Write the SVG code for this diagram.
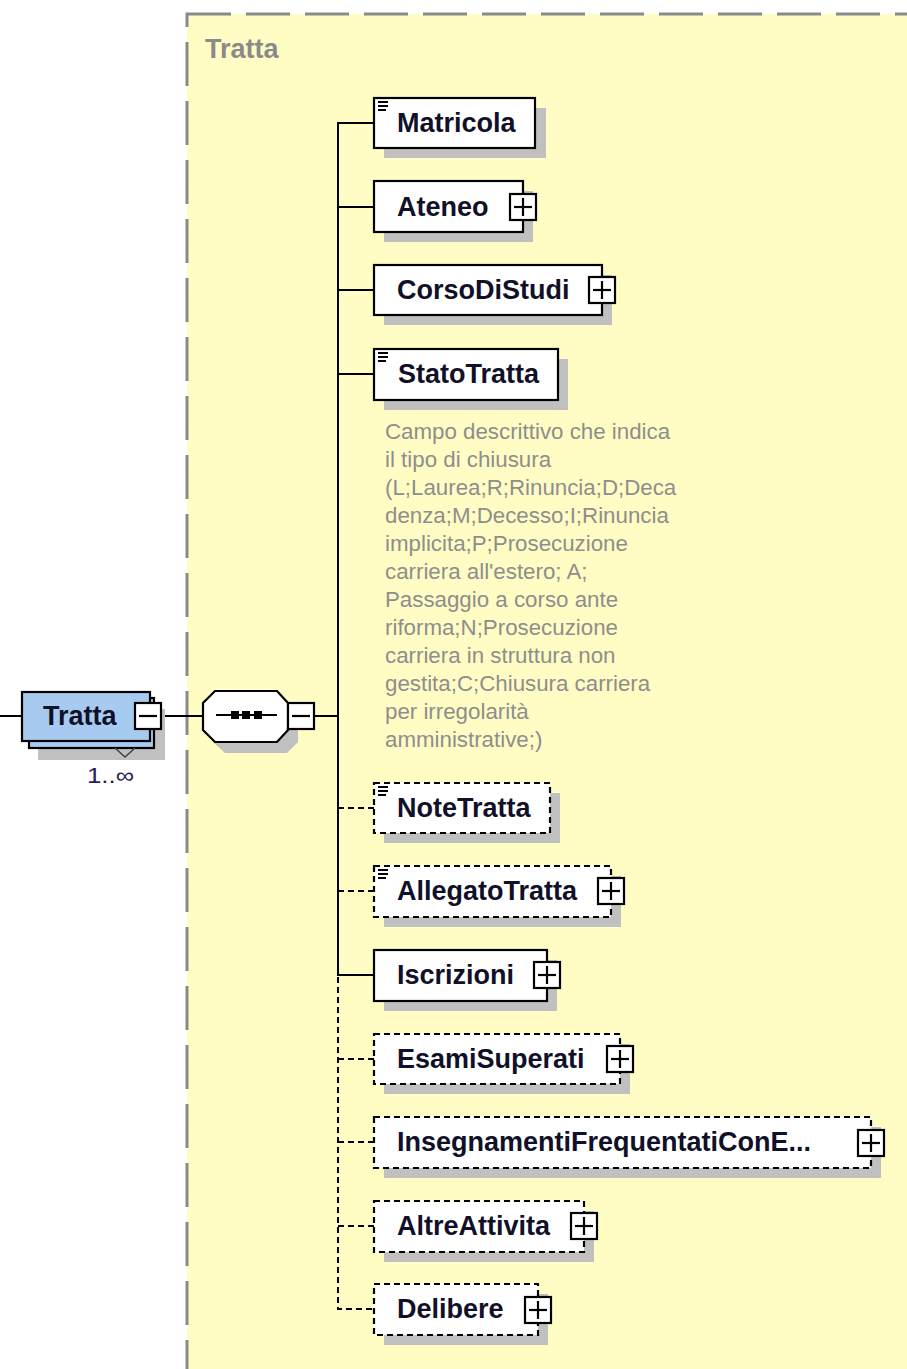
<svg xmlns="http://www.w3.org/2000/svg" width="907" height="1369" viewBox="0 0 907 1369">
  <style>
    .panel { fill: #FFFDC4; stroke: #8A8A8A; stroke-width: 3; stroke-dasharray: 44 15; }
    .panel-title { font-family: "Liberation Sans", Arial, sans-serif; font-weight: bold; font-size: 27px; fill: #8A8A8A; }
    .shadow { fill: #C0C0C0; }
    .box { fill: #FFFFFF; stroke: #000000; stroke-width: 2.2; }
    .box-opt { fill: #FFFFFF; stroke: #000000; stroke-width: 2.2; stroke-dasharray: 6 4; }
    .label { font-family: "Liberation Sans", Arial, sans-serif; font-weight: bold; font-size: 27px; fill: #101028; }
    .desc { font-family: "Liberation Sans", Arial, sans-serif; font-size: 22.3px; fill: #8E8E8E; }
    .occurs { font-family: "Liberation Sans", Arial, sans-serif; font-size: 22px; fill: #2B1B5B; }
    .wire { stroke: #000000; stroke-width: 2; fill: none; }
    .wire-opt { stroke: #000000; stroke-width: 2; fill: none; stroke-dasharray: 6 4; }
    .toggle { fill: #FFFFFF; stroke: #000000; stroke-width: 2.2; }
    .sign { stroke: #000000; stroke-width: 2.2; }
    .doc { stroke: #000000; stroke-width: 2; }
  </style>
  <defs>
    <!-- expand button, centred on its origin -->
    <g id="plus">
      <rect class="toggle" x="-13" y="-13" width="26" height="26"/>
      <line class="sign" x1="-9" y1="0" x2="9" y2="0"/>
      <line class="sign" x1="0" y1="-9" x2="0" y2="9"/>
    </g>
    <!-- collapse button, centred on its origin -->
    <g id="minus">
      <rect class="toggle" x="-13" y="-13" width="26" height="26"/>
      <line class="sign" x1="-9" y1="0" x2="9" y2="0"/>
    </g>
    <!-- simple-content marker in a node's top-left corner -->
    <g id="doc">
      <line class="doc" x1="0" y1="0" x2="10" y2="0"/>
      <line class="doc" x1="0" y1="4" x2="10" y2="4"/>
      <line class="doc" x1="0" y1="8" x2="8" y2="8"/>
    </g>
  </defs>

  <rect width="907" height="1369" fill="#FFFFFF"/>

  <!-- complex type panel -->
  <g id="panel">
    <rect class="panel" x="187" y="14" width="760" height="1400"/>
    <text class="panel-title" x="205" y="58">Tratta</text>
  </g>

  <!-- connectors -->
  <g id="connectors">
    <line class="wire" x1="0" y1="716" x2="22" y2="716"/>
    <line class="wire" x1="161" y1="716" x2="203" y2="716"/>
    <line class="wire" x1="301" y1="716" x2="338" y2="716"/>
    <polyline class="wire" points="374,123 338,123 338,975 374,975"/>
    <line class="wire" x1="338" y1="207" x2="374" y2="207"/>
    <line class="wire" x1="338" y1="290" x2="374" y2="290"/>
    <line class="wire" x1="338" y1="374" x2="374" y2="374"/>
    <line class="wire-opt" x1="338" y1="808" x2="374" y2="808"/>
    <line class="wire-opt" x1="338" y1="891" x2="374" y2="891"/>
    <polyline class="wire-opt" points="338,977 338,1309 374,1309"/>
    <line class="wire-opt" x1="338" y1="1059" x2="374" y2="1059"/>
    <line class="wire-opt" x1="338" y1="1142" x2="374" y2="1142"/>
    <line class="wire-opt" x1="338" y1="1226" x2="374" y2="1226"/>
  </g>

  <!-- root element -->
  <g id="node-root">
    <rect class="shadow" x="38" y="709" width="127" height="51"/>
    <rect x="29" y="698" width="125" height="50" fill="#A6CAF0" stroke="#000" stroke-width="2.2"/>
    <rect x="22" y="692" width="128" height="49" fill="#A6CAF0" stroke="#000" stroke-width="2.2"/>
    <polyline points="115,748 125,757 135,748" fill="none" stroke="#404040" stroke-width="1.5"/>
    <text class="label" x="43" y="725">Tratta</text>
    <use href="#minus" x="148" y="716"/>
    <text class="occurs" x="87" y="783" textLength="47" lengthAdjust="spacingAndGlyphs">1..∞</text>
  </g>

  <!-- sequence compositor -->
  <g id="node-sequence">
    <polygon class="shadow" points="225,701 287,701 298,713 298,742 287,753 225,753 213,742 213,713"/>
    <polygon points="215,691 277,691 288,703 288,730 277,742 215,742 203,730 203,703" fill="#FFFFFF" stroke="#000" stroke-width="2.2"/>
    <line class="wire" x1="216" y1="715" x2="277" y2="715"/>
    <rect x="231" y="711" width="8" height="8" fill="#000"/>
    <rect x="242" y="711" width="8" height="8" fill="#000"/>
    <rect x="254" y="711" width="8" height="8" fill="#000"/>
    <use href="#minus" x="301" y="716"/>
  </g>

  <g id="node-matricola">
    <rect class="shadow" x="384" y="108" width="162" height="50"/>
    <rect class="box" x="374" y="98" width="161" height="50"/>
    <use href="#doc" x="378" y="102"/>
    <text class="label" x="397" y="132">Matricola</text>
  </g>

  <g id="node-ateneo">
    <rect class="shadow" x="384" y="191" width="149" height="51"/>
    <rect class="box" x="374" y="181" width="149" height="51"/>
    <text class="label" x="397" y="216">Ateneo</text>
    <use href="#plus" x="523" y="207"/>
  </g>

  <g id="node-corsodistudi">
    <rect class="shadow" x="384" y="275" width="228" height="50"/>
    <rect class="box" x="374" y="265" width="228" height="50"/>
    <text class="label" x="397" y="299">CorsoDiStudi</text>
    <use href="#plus" x="602" y="290"/>
  </g>

  <g id="node-statotratta">
    <rect class="shadow" x="384" y="359" width="184" height="51"/>
    <rect class="box" x="374" y="349" width="184" height="51"/>
    <use href="#doc" x="378" y="353"/>
    <text class="label" x="398" y="383">StatoTratta</text>
    <text class="desc">
      <tspan x="385" y="439">Campo descrittivo che indica</tspan>
      <tspan x="385" y="467">il tipo di chiusura</tspan>
      <tspan x="385" y="495">(L;Laurea;R;Rinuncia;D;Deca</tspan>
      <tspan x="385" y="523">denza;M;Decesso;I;Rinuncia</tspan>
      <tspan x="385" y="551">implicita;P;Prosecuzione</tspan>
      <tspan x="385" y="579">carriera all'estero; A;</tspan>
      <tspan x="385" y="607">Passaggio a corso ante</tspan>
      <tspan x="385" y="635">riforma;N;Prosecuzione</tspan>
      <tspan x="385" y="663">carriera in struttura non</tspan>
      <tspan x="385" y="691">gestita;C;Chiusura carriera</tspan>
      <tspan x="385" y="719">per irregolarità</tspan>
      <tspan x="385" y="747">amministrative;)</tspan>
    </text>
  </g>

  <g id="node-notetratta">
    <rect class="shadow" x="384" y="793" width="176" height="50"/>
    <rect class="box-opt" x="374" y="783" width="176" height="50"/>
    <use href="#doc" x="378" y="787"/>
    <text class="label" x="397" y="817">NoteTratta</text>
  </g>

  <g id="node-allegatotratta">
    <rect class="shadow" x="384" y="876" width="237" height="51"/>
    <rect class="box-opt" x="374" y="866" width="237" height="51"/>
    <use href="#doc" x="378" y="870"/>
    <text class="label" x="397" y="900">AllegatoTratta</text>
    <use href="#plus" x="611" y="891"/>
  </g>

  <g id="node-iscrizioni">
    <rect class="shadow" x="384" y="960" width="173" height="51"/>
    <rect class="box" x="374" y="950" width="173" height="51"/>
    <text class="label" x="397" y="984">Iscrizioni</text>
    <use href="#plus" x="547" y="975"/>
  </g>

  <g id="node-esamisuperati">
    <rect class="shadow" x="384" y="1044" width="246" height="50"/>
    <rect class="box-opt" x="374" y="1034" width="246" height="50"/>
    <text class="label" x="397" y="1068">EsamiSuperati</text>
    <use href="#plus" x="620" y="1059"/>
  </g>

  <g id="node-insegnamenti">
    <rect class="shadow" x="384" y="1127" width="497" height="51"/>
    <rect class="box-opt" x="374" y="1117" width="497" height="51"/>
    <text class="label" x="397" y="1151">InsegnamentiFrequentatiConE...</text>
    <use href="#plus" x="871" y="1143"/>
  </g>

  <g id="node-altreattivita">
    <rect class="shadow" x="384" y="1211" width="210" height="51"/>
    <rect class="box-opt" x="374" y="1201" width="210" height="51"/>
    <text class="label" x="397" y="1235">AltreAttivita</text>
    <use href="#plus" x="584" y="1226"/>
  </g>

  <g id="node-delibere">
    <rect class="shadow" x="384" y="1294" width="164" height="51"/>
    <rect class="box-opt" x="374" y="1284" width="164" height="51"/>
    <text class="label" x="397" y="1318">Delibere</text>
    <use href="#plus" x="538" y="1310"/>
  </g>
</svg>
